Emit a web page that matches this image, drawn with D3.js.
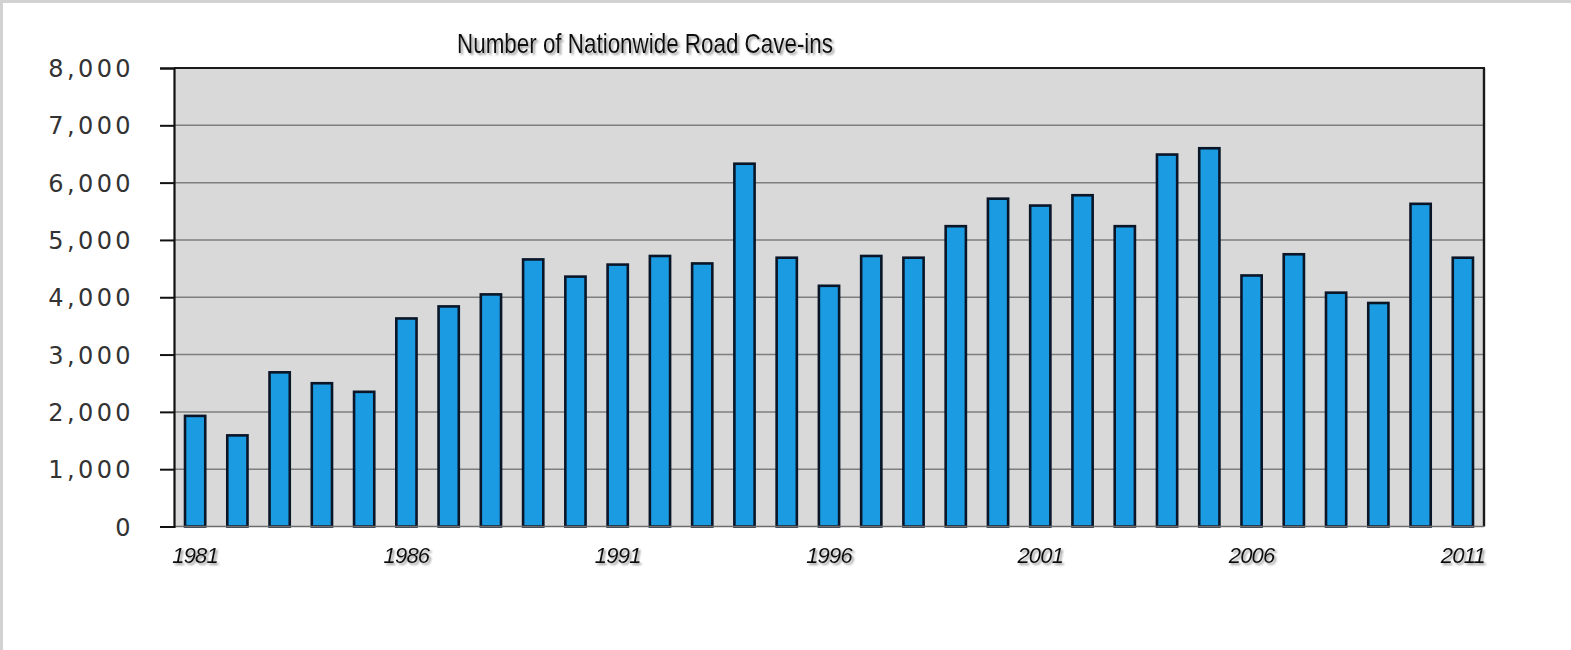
<!DOCTYPE html>
<html>
<head>
<meta charset="utf-8">
<script src="https://cdn.jsdelivr.net/npm/d3@7"></script>
<style>
  html, body { margin: 0; padding: 0; background: #ffffff; }
  svg { display: block; }
</style>
</head>
<body>
<script>
// Yearly count of road cave-ins across the country
const years = [1981, 1982, 1983, 1984, 1985, 1986, 1987, 1988, 1989, 1990,
               1991, 1992, 1993, 1994, 1995, 1996, 1997, 1998, 1999, 2000,
               2001, 2002, 2003, 2004, 2005, 2006, 2007, 2008, 2009, 2010, 2011];
const caveIns = [1930, 1590, 2690, 2500, 2350, 3630, 3840, 4050, 4660, 4360,
                 4570, 4720, 4590, 6330, 4690, 4200, 4720, 4690, 5240, 5720,
                 5600, 5780, 5240, 6490, 6600, 4380, 4750, 4080, 3900, 5630, 4690];
const yTicks = [0, 1000, 2000, 3000, 4000, 5000, 6000, 7000, 8000];
const xTickYears = [1981, 1986, 1991, 1996, 2001, 2006, 2011];
const chartTitle = "Number of Nationwide Road Cave-ins";

const W = 1571, H = 650;
const plot = { left: 174, right: 1484, top: 68, bottom: 526.5 };

const svg = d3.select("body").append("svg")
  .attr("width", W).attr("height", H);

const defs = svg.append("defs");
const shadow = defs.append("filter").attr("id", "textShadow")
  .attr("x", "-10%").attr("y", "-30%").attr("width", "130%").attr("height", "170%");
shadow.append("feDropShadow")
  .attr("dx", 2).attr("dy", 2).attr("stdDeviation", 1)
  .attr("flood-color", "#7a7a7a").attr("flood-opacity", 0.75);

// page frame
svg.append("rect").attr("x", 0).attr("y", 0).attr("width", W).attr("height", H).attr("fill", "#ffffff");
svg.append("rect").attr("x", 0).attr("y", 0).attr("width", W).attr("height", 3).attr("fill", "#d2d2d2");
svg.append("rect").attr("x", 0).attr("y", 0).attr("width", 3).attr("height", H).attr("fill", "#d2d2d2");

const x = d3.scaleBand()
  .domain(years)
  .range([plot.left, plot.right])
  .paddingInner(0.46)
  .paddingOuter(0.23);

const y = d3.scaleLinear()
  .domain([0, 8000])
  .range([plot.bottom, plot.top]);

// plot area
svg.append("rect")
  .attr("x", plot.left).attr("y", plot.top)
  .attr("width", plot.right - plot.left).attr("height", plot.bottom - plot.top)
  .attr("fill", "#d9d9d9");

// horizontal gridlines
svg.append("g")
  .selectAll("line")
  .data(yTicks.filter(t => t > 0 && t < 8000))
  .join("line")
  .attr("x1", plot.left).attr("x2", plot.right)
  .attr("y1", d => y(d)).attr("y2", d => y(d))
  .attr("stroke", "#7e7e7e").attr("stroke-width", 1.5);

// bars
svg.append("g")
  .selectAll("rect")
  .data(years.map((yr, i) => ({ yr, v: caveIns[i] })))
  .join("rect")
  .attr("x", d => x(d.yr) + 1.3)
  .attr("y", d => y(d.v))
  .attr("width", x.bandwidth() - 2.6)
  .attr("height", d => y(0) - y(d.v))
  .attr("fill", "#1b9be2")
  .attr("stroke", "#0a1628")
  .attr("stroke-width", 2.6);

// frame: top, right, bottom and left axis line
svg.append("line").attr("x1", plot.left).attr("x2", plot.right + 1)
  .attr("y1", plot.top).attr("y2", plot.top).attr("stroke", "#1a1a1a").attr("stroke-width", 2);
svg.append("line").attr("x1", plot.right).attr("x2", plot.right)
  .attr("y1", plot.top).attr("y2", plot.bottom).attr("stroke", "#1a1a1a").attr("stroke-width", 2.4);
svg.append("line").attr("x1", plot.left).attr("x2", plot.right)
  .attr("y1", plot.bottom).attr("y2", plot.bottom).attr("stroke", "#6d6d6d").attr("stroke-width", 1.5);

// y axis
const yAxis = svg.append("g")
  .attr("transform", `translate(${plot.left},0)`)
  .call(d3.axisLeft(y).tickValues(yTicks).tickSize(14).tickPadding(0).tickFormat(() => ""));
yAxis.select(".domain").attr("stroke", "#111").attr("stroke-width", 2.2);
yAxis.selectAll(".tick line").attr("stroke", "#111").attr("stroke-width", 2);

svg.append("g")
  .selectAll("text")
  .data(yTicks)
  .join("text")
  .attr("x", 134)
  .attr("y", d => y(d) + 9)
  .attr("text-anchor", "end")
  .style("font-family", "'DejaVu Sans', sans-serif")
  .style("font-size", "24px")
  .style("letter-spacing", "3.4px")
  .attr("fill", "#333333")
  .text(d => d3.format(",")(d));

// x labels every five years
svg.append("g")
  .selectAll("text")
  .data(xTickYears)
  .join("text")
  .attr("x", d => x(d) + x.bandwidth() / 2)
  .attr("y", 563)
  .attr("text-anchor", "middle")
  .attr("filter", "url(#textShadow)")
  .style("font-family", "'Liberation Sans', Arial, sans-serif")
  .style("font-style", "italic")
  .style("font-size", "22px")
  .style("letter-spacing", "-0.8px")
  .attr("fill", "#111111")
  .text(d => d);

// title
svg.append("text")
  .attr("x", 457)
  .attr("y", 53)
  .attr("textLength", 376)
  .attr("lengthAdjust", "spacingAndGlyphs")
  .attr("filter", "url(#textShadow)")
  .style("font-family", "'Liberation Sans Narrow', 'Liberation Sans', sans-serif")
  .style("font-size", "28px")
  .attr("fill", "#111111")
  .text(chartTitle);
</script>
</body>
</html>
